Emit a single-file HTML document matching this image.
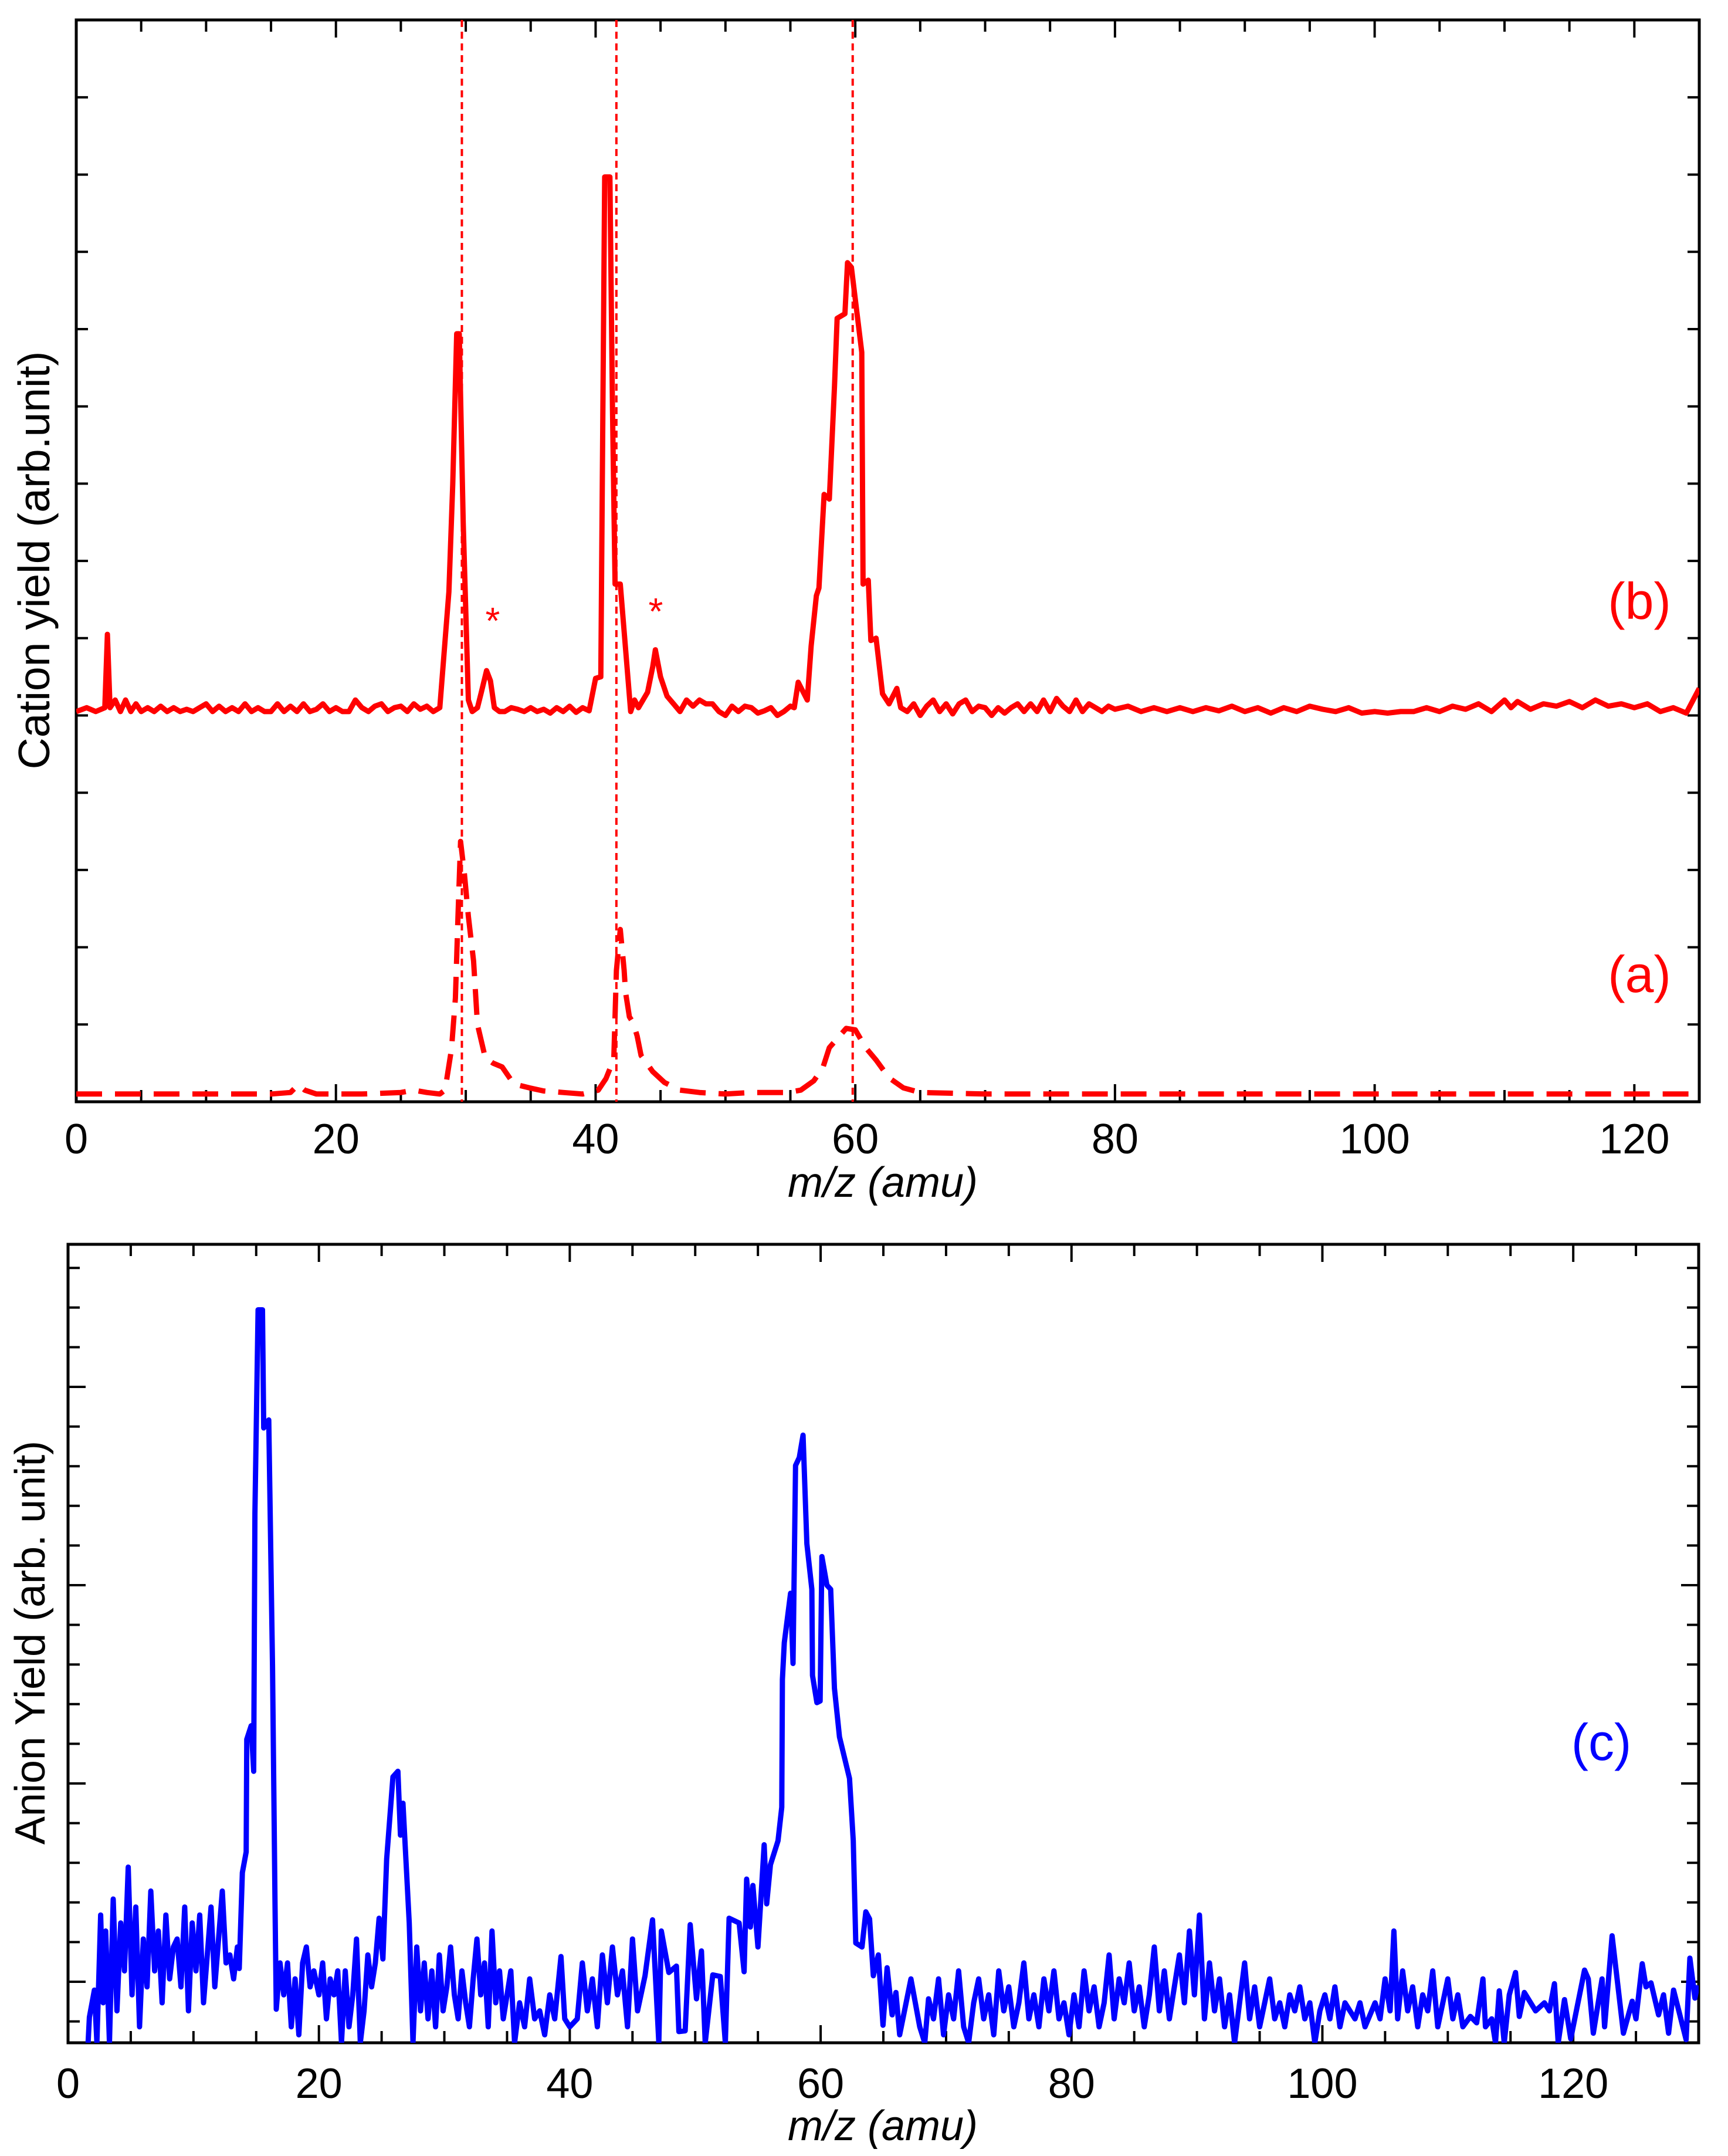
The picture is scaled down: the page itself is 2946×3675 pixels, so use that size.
<!DOCTYPE html>
<html><head><meta charset="utf-8"><style>
html,body{margin:0;padding:0;background:#fff}
svg{display:block}
text{font-family:"Liberation Sans",sans-serif}
</style></head><body>
<svg id="chart" width="2946" height="3675" viewBox="0 0 2946 3675" xmlns="http://www.w3.org/2000/svg">
<defs>
<clipPath id="clipTop"><rect x="130" y="34" width="2767" height="1844"/></clipPath>
<clipPath id="clipBot"><rect x="116" y="2121" width="2780" height="1361"/></clipPath>
</defs>
<g id="topPanel"></g>
<g id="botPanel"></g>
<text x="0" y="0" transform="translate(84,955) rotate(-90)" font-size="75" text-anchor="middle">Cation yield (arb.unit)</text>
<text x="1505" y="2040" font-size="72" font-style="italic" text-anchor="middle">m/z (amu)</text>
<text x="2795" y="1055" font-size="88" fill="#ff0000" text-anchor="middle">(b)</text>
<text x="2795" y="1691" font-size="88" fill="#ff0000" text-anchor="middle">(a)</text>
<text x="840" y="1080" font-size="64" fill="#ff0000" text-anchor="middle">*</text>
<text x="1118" y="1064" font-size="64" fill="#ff0000" text-anchor="middle">*</text>
<text x="0" y="0" transform="translate(76,2800) rotate(-90)" font-size="72" text-anchor="middle">Anion Yield (arb. unit)</text>
<text x="1505" y="3648" font-size="72" font-style="italic" text-anchor="middle">m/z (amu)</text>
<text x="2730" y="3000" font-size="88" fill="#0000ff" text-anchor="middle">(c)</text>
</svg>
<script>
// ---- data ----
const massA = [0,5,10,15,16.5,17.1,17.6,18.5,22,25,26,27,28,28.4,28.9,29.2,29.4,29.6,29.9,30.2,30.6,30.9,31.5,32.1,32.8,33.7,34.9,36,37.5,39,40.2,40.8,41.4,41.6,41.9,42.2,42.3,42.6,42.9,43.2,43.5,44.4,45.3,46.5,48,50,52,54.8,55.8,56.8,57.5,58,59.3,60,60.8,61.6,62.6,63.7,65,70,80,90,100,110,125];
const yieldA = [0.1,0.1,0.1,0.1,0.12,0.22,0.15,0.1,0.1,0.12,0.15,0.12,0.1,0.15,0.68,1.34,2.4,3.37,2.94,2.4,1.82,1.0,0.57,0.5,0.45,0.23,0.18,0.14,0.12,0.1,0.15,0.3,0.55,1.7,2.23,1.7,1.42,1.1,1.02,0.85,0.6,0.39,0.25,0.15,0.12,0.1,0.12,0.12,0.15,0.27,0.44,0.7,0.95,0.93,0.7,0.54,0.31,0.18,0.12,0.1,0.1,0.1,0.1,0.1,0.1];
const massB = [0,0.8,1.5,2.2,2.4,2.6,3,3.4,3.8,4.2,4.6,5,5.5,6,6.5,7,7.5,8,8.5,9,9.5,10,10.5,11,11.5,12,12.5,13,13.5,14,14.5,15,15.5,16,16.5,17,17.5,18,18.5,19,19.5,20,20.5,21,21.5,22,22.5,23,23.5,24,24.5,25,25.5,26,26.5,27,27.5,28,28.7,29.0,29.3,29.5,29.8,30.2,30.5,30.9,31.2,31.6,31.9,32.2,32.6,33,33.5,34,34.5,35,35.5,36,36.5,37,37.5,38,38.5,39,39.5,40,40.4,40.7,41.1,41.3,41.5,41.9,42.7,43.0,43.3,44.0,44.4,44.6,45.0,45.5,46,46.5,47,47.5,48,48.5,49,49.5,50,50.5,51,51.5,52,52.5,53,53.5,54,54.5,55,55.3,55.6,56.3,56.6,57.0,57.2,57.6,58.0,58.4,58.6,59.2,59.4,59.7,60.5,60.6,61.0,61.2,61.6,62.1,62.6,63.2,63.5,64,64.5,65,65.5,66,66.5,67,67.5,68,68.5,69,69.5,70,70.5,71,71.5,72,72.5,73,73.5,74,74.5,75,75.5,76,76.5,77,77.5,78,78.5,79,79.5,80,81,82,83,84,85,86,87,88,89,90,91,92,93,94,95,96,97,98,99,100,101,102,103,104,105,106,107,108,109,110,110.5,111,112,113,114,115,116,117,118,119,120,121,122,123,124,125];
const yieldB = [5.05,5.1,5.05,5.1,6.05,5.1,5.2,5.05,5.2,5.05,5.15,5.05,5.1,5.05,5.12,5.05,5.1,5.05,5.08,5.05,5.1,5.15,5.05,5.12,5.05,5.1,5.05,5.15,5.05,5.1,5.05,5.05,5.15,5.05,5.12,5.05,5.15,5.05,5.08,5.15,5.05,5.1,5.05,5.05,5.2,5.1,5.05,5.12,5.15,5.05,5.1,5.12,5.05,5.15,5.08,5.12,5.05,5.1,6.6,8.0,9.94,9.94,7.5,5.2,5.05,5.1,5.3,5.58,5.45,5.1,5.05,5.05,5.1,5.08,5.05,5.1,5.05,5.08,5.03,5.1,5.05,5.12,5.04,5.1,5.06,5.48,5.5,11.97,11.97,8.97,6.7,6.7,5.05,5.2,5.1,5.3,5.63,5.85,5.5,5.25,5.15,5.05,5.2,5.12,5.2,5.15,5.15,5.05,5.0,5.12,5.05,5.12,5.1,5.03,5.06,5.1,5.0,5.05,5.12,5.1,5.43,5.2,5.9,6.55,6.65,7.86,7.8,9.26,10.14,10.2,10.86,10.8,9.7,6.7,6.75,5.97,6.0,5.28,5.15,5.35,5.1,5.05,5.15,5.0,5.12,5.2,5.05,5.15,5.02,5.15,5.2,5.05,5.12,5.1,5.0,5.1,5.03,5.1,5.15,5.05,5.15,5.05,5.2,5.05,5.22,5.12,5.05,5.2,5.05,5.15,5.1,5.05,5.12,5.08,5.12,5.05,5.1,5.05,5.1,5.05,5.1,5.06,5.12,5.05,5.1,5.03,5.1,5.05,5.12,5.08,5.05,5.1,5.03,5.05,5.03,5.05,5.05,5.1,5.05,5.12,5.08,5.15,5.05,5.2,5.1,5.18,5.08,5.15,5.12,5.18,5.1,5.2,5.12,5.15,5.1,5.15,5.05,5.1,5.03,5.35];
const markerMass = [29.7,41.6,59.8];
const massC = [1.6,1.7,2.1,2.3,2.6,2.8,3.0,3.3,3.6,3.9,4.2,4.5,4.8,5.1,5.4,5.7,6.0,6.3,6.6,6.9,7.2,7.5,7.8,8.1,8.4,8.7,9.0,9.3,9.6,9.9,10.2,10.5,10.8,11.1,11.4,11.7,12.0,12.3,12.6,12.9,13.2,13.5,13.65,13.9,14.2,14.25,14.6,14.8,14.9,15.15,15.5,15.6,16.0,16.3,16.5,16.6,16.9,17.2,17.5,17.8,18.1,18.4,18.7,19.0,19.3,19.6,20.0,20.3,20.6,20.9,21.2,21.5,21.8,22.1,22.4,22.7,23.0,23.3,23.6,23.9,24.2,24.5,24.8,25.1,25.4,25.9,26.3,26.5,26.7,27.2,27.5,27.8,28.1,28.4,28.7,29.0,29.3,29.6,29.9,30.2,30.5,30.8,31.1,31.4,31.7,32.0,32.3,32.6,32.9,33.2,33.5,33.8,34.1,34.4,34.7,35.0,35.3,35.6,36.0,36.4,36.8,37.2,37.6,38.0,38.4,38.8,39.3,39.6,40.0,40.6,41.0,41.4,41.8,42.2,42.6,43.0,43.4,43.8,44.2,44.6,45.0,45.4,46.0,46.6,47.1,47.3,47.9,48.5,48.7,49.2,49.6,50.1,50.5,50.8,51.4,52.0,52.4,52.7,53.5,53.9,54.1,54.4,54.6,55.0,55.5,55.7,56.0,56.6,56.9,56.95,57.1,57.6,57.8,58.0,58.3,58.6,58.9,59.3,59.35,59.7,59.96,60.1,60.5,60.8,61.1,61.5,62.3,62.6,62.8,63.3,63.6,63.9,64.2,64.6,64.97,65.3,65.7,66.0,66.3,67.2,67.9,68.3,68.6,69,69.4,69.8,70.2,70.6,71,71.4,71.8,72.2,72.6,73,73.4,73.8,74.2,74.6,75,75.4,75.8,76.2,76.6,77,77.4,77.8,78.2,78.6,79,79.4,79.8,80.2,80.6,81,81.4,81.8,82.2,82.6,83,83.4,83.8,84.2,84.6,85,85.4,85.8,86.2,86.6,87,87.4,87.8,88.2,88.6,89,89.4,89.8,90.2,90.6,91,91.4,91.8,92.2,92.6,93,93.4,93.8,94.2,94.6,95,95.4,95.8,96.2,96.6,97,97.4,97.8,98.2,98.6,99,99.4,99.8,100.2,100.6,101,101.4,101.8,102.2,102.6,103,103.4,104.2,104.6,105,105.4,105.7,106,106.4,106.8,107.2,107.6,108,108.4,108.8,109.2,109.6,110,110.4,110.8,111.2,111.8,112.3,112.8,113.0,113.5,113.8,114.1,114.5,114.9,115.4,115.7,116.1,117.0,117.7,118.1,118.5,118.8,119.3,119.8,120.9,121.2,121.6,122.3,122.5,123.1,124.0,124.7,125.0,125.5,125.8,126.2,126.8,127.2,127.6,128.0,129.0,129.3,129.7,129.9];
const yieldC = [0.0,0.32,0.66,0.0,1.6,0.5,1.4,0.0,1.8,0.4,1.5,0.9,2.2,0.6,1.7,0.2,1.3,0.7,1.9,0.9,1.4,0.5,1.6,0.8,1.2,1.3,0.7,1.7,0.4,1.5,0.9,1.6,0.5,1.1,1.7,0.7,1.3,1.9,1.0,1.1,0.8,1.2,0.93,2.13,2.39,3.8,3.97,3.4,6.63,9.18,9.18,7.7,7.8,4.72,1.78,0.42,1.0,0.6,1.0,0.2,0.8,0.1,1.0,1.2,0.7,0.9,0.6,1.0,0.3,0.8,0.6,0.9,0.0,0.9,0.2,0.6,1.3,0.0,0.4,1.1,0.7,1.0,1.56,1.05,2.3,3.33,3.4,2.6,3.0,1.5,0.0,1.2,0.4,1.0,0.3,0.9,0.2,1.1,0.4,0.7,1.2,0.6,0.3,0.9,0.5,0.2,0.8,1.3,0.6,1.0,0.2,1.4,0.5,0.9,0.3,0.6,0.9,0.0,0.5,0.2,0.8,0.3,0.4,0.1,0.6,0.3,1.08,0.3,0.2,0.3,1.0,0.4,0.8,0.2,1.1,0.5,1.2,0.6,0.9,0.2,1.3,0.4,0.84,1.54,0.0,1.4,0.88,0.96,0.14,0.15,1.48,0.55,1.15,0.0,0.85,0.83,0.0,1.56,1.5,0.89,2.05,1.45,1.97,1.2,2.48,1.74,2.23,2.53,2.95,4.55,5.01,5.63,4.75,7.23,7.33,7.61,6.25,5.68,4.6,4.26,4.28,6.09,5.73,5.68,4.44,3.83,3.31,2.53,1.25,1.2,1.64,1.55,0.84,1.1,0.22,0.94,0.35,0.63,0.1,0.8,0.2,0.0,0.55,0.3,0.8,0.1,0.6,0.3,0.9,0.2,0.0,0.5,0.8,0.3,0.6,0.1,0.9,0.4,0.7,0.2,0.5,1.0,0.3,0.6,0.2,0.8,0.4,0.9,0.3,0.5,0.1,0.6,0.2,0.9,0.4,0.7,0.2,0.5,1.1,0.3,0.8,0.5,1.0,0.4,0.7,0.2,0.6,1.2,0.4,0.9,0.3,0.7,1.1,0.5,1.4,0.6,1.6,0.3,1.0,0.4,0.8,0.2,0.6,0.0,0.5,1.0,0.3,0.7,0.2,0.5,0.8,0.3,0.5,0.2,0.6,0.4,0.7,0.3,0.5,0.0,0.4,0.6,0.3,0.7,0.2,0.5,0.4,0.3,0.5,0.2,0.5,0.3,0.8,0.4,1.4,0.3,0.9,0.4,0.7,0.2,0.6,0.4,0.9,0.2,0.5,0.8,0.3,0.6,0.2,0.33,0.25,0.8,0.2,0.3,0.0,0.65,0.0,0.6,0.88,0.33,0.63,0.4,0.5,0.4,0.74,0.0,0.54,0.05,0.91,0.8,0.12,0.8,0.2,1.34,0.12,0.52,0.3,0.99,0.7,0.75,0.35,0.6,0.12,0.66,0.04,1.06,0.56,0.72];
const ticksTopX = [0,20,40,60,80,100,120];
const ticksBotX = [0,20,40,60,80,100,120];

// ---- axes ----
const T = {x0:130, x1:2897, y0:34, y1:1878, xmax:125};
const B = {x0:116, x1:2896, y0:2121, y1:3482, xmax:130};
function xT(v){return T.x0 + v*(T.x1-T.x0)/T.xmax;}
function yT(v){return T.y1 - v*131.7;}
function xB(v){return B.x0 + v*(B.x1-B.x0)/B.xmax;}
function yB(v){return B.y1 - v*136.1;}

const NS = "http://www.w3.org/2000/svg";
function mk(tag, attrs, parent){
  const e = document.createElementNS(NS, tag);
  for (const k in attrs) e.setAttribute(k, attrs[k]);
  parent.appendChild(e);
  return e;
}
const gTop = document.getElementById('topPanel');
const gBot = document.getElementById('botPanel');

function frame(g, P, xfn, xmax, ticks, labelY, yTicks){
  const r = mk('rect', {x:P.x0, y:P.y0, width:P.x1-P.x0, height:P.y1-P.y0, fill:'none', stroke:'#000', 'stroke-width':5}, g);
  
  
  for (let v=0; v<=xmax; v+=5){
    const major = v%20===0;
    const len = major?30:20;
    const x = xfn(v);
    const tb = mk('line', {x1:x, x2:x, y1:P.y1, y2:P.y1-len, stroke:'#000','stroke-width':4}, g);
    
    
    const tt = mk('line', {x1:x, x2:x, y1:P.y0, y2:P.y0+len, stroke:'#000','stroke-width':4}, g);
    
    
  }
  ticks.forEach(v=>{
    const t = mk('text', {x:xfn(v), y:labelY, 'font-size':72, 'text-anchor':'middle'}, g);
    
    
    t.textContent = v;
  });
  yTicks.forEach(o=>{
    const len = o.major?30:20;
    const l = mk('line', {x1:P.x0, x2:P.x0+len, y1:o.y, y2:o.y, stroke:'#000','stroke-width':4}, g);
    
    
    const r2 = mk('line', {x1:P.x1, x2:P.x1-len, y1:o.y, y2:o.y, stroke:'#000','stroke-width':4}, g);
    
    
  });
}
const yTicksTop = [];
for (let k=1;k<14;k++) yTicksTop.push({y:yT(k), major:false});
const yTicksBot = [];
for (let j=-18;j<=1;j++){ const y=3378+67.6*j; if (y>B.y0+5 && y<B.y1-5) yTicksBot.push({y:y, major:j%5===0}); }

frame(gTop, T, xT, 125, ticksTopX, 1966, yTicksTop);
frame(gBot, B, xB, 130, ticksBotX, 3576, yTicksBot);

function pathFrom(xs, ys, xf, yf){
  const n = Math.min(xs.length, ys.length);
  let d = '';
  for (let i=0;i<n;i++) d += (i?'L':'M')+xf(xs[i]).toFixed(1)+','+yf(ys[i]).toFixed(1)+' ';
  return d;
}
const gt = mk('g', {'clip-path':'url(#clipTop)'}, gTop);
markerMass.forEach(m=>{
  const l = mk('line', {x1:xT(m), x2:xT(m), y1:T.y0, y2:T.y1, stroke:'#ff0000','stroke-width':4,'stroke-dasharray':'12,8'}, gt);
  
  
});
const pa = mk('path', {d:pathFrom(massA, yieldA, xT, yT), fill:'none', stroke:'#ff0000','stroke-width':9,'stroke-dasharray':'44,22','stroke-linejoin':'round'}, gt);


const pb = mk('path', {d:pathFrom(massB, yieldB, xT, yT), fill:'none', stroke:'#ff0000','stroke-width':9,'stroke-linejoin':'round'}, gt);



const gb = mk('g', {'clip-path':'url(#clipBot)'}, gBot);
const pc = mk('path', {d:pathFrom(massC, yieldC, xB, yB), fill:'none', stroke:'#0000ff','stroke-width':9,'stroke-linejoin':'round'}, gb);


</script>
</body></html>
